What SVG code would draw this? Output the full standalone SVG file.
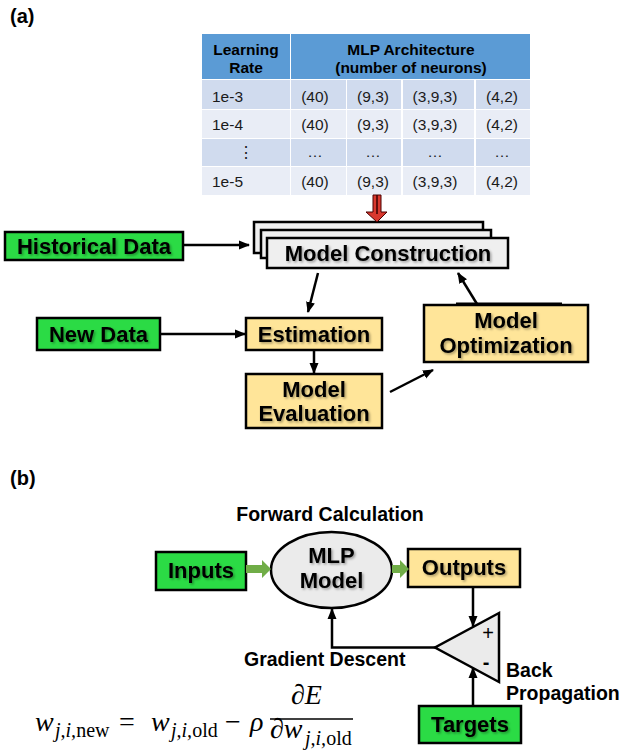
<svg xmlns="http://www.w3.org/2000/svg" width="636" height="751" viewBox="0 0 636 751">
<defs>
<style>
.lbl{font-family:"Liberation Sans",Arial,sans-serif;font-weight:bold;fill:#000}
.bt{font-size:22px;text-anchor:middle;filter:url(#sh)}
.cap{font-size:19.5px}
.box{stroke:#000;stroke-width:2.5}
.green{fill:#2BDB45}
.yellow{fill:#FFE599}
.gray{fill:#EFEFEF}
.hd{fill:#5B9BD5}
.r1{fill:#D0DBEE}
.r2{fill:#E9EDF6}
.th{font-family:"Liberation Sans",Arial,sans-serif;font-size:15.5px;font-weight:bold;text-anchor:middle;fill:#000}
.td{font-family:"Liberation Sans",Arial,sans-serif;font-size:15.5px;text-anchor:middle;fill:#1a1a1a}
.conn{stroke:#000;stroke-width:2.5;fill:none}
.garrow{fill:#70AD47}
.math{font-family:"Liberation Serif","Times New Roman",serif;font-style:italic;fill:#000}
.up{font-style:normal}
</style>
<filter id="sh" x="-10%" y="-30%" width="125%" height="170%">
<feDropShadow dx="1.5" dy="1.5" stdDeviation="1" flood-color="#000" flood-opacity="0.35"/>
</filter>
<marker id="ah" markerUnits="userSpaceOnUse" markerWidth="11" markerHeight="10" viewBox="0 0 11 10" refX="10" refY="5" orient="auto">
<path d="M0,0.5 L11,5 L0,9.5 z" fill="#000"/>
</marker>
</defs>

<text class="lbl" x="10" y="23" font-size="20">(a)</text>
<text class="lbl" x="10" y="485" font-size="20">(b)</text>

<g id="table">
<rect class="hd" x="202" y="34" width="88" height="45"/>
<rect class="hd" x="291" y="34" width="239" height="45"/>
<rect class="r1" x="202" y="80" width="88" height="29"/>
<rect class="r1" x="291" y="80" width="55" height="29"/>
<rect class="r1" x="347" y="80" width="54" height="29"/>
<rect class="r1" x="403" y="80" width="71" height="29"/>
<rect class="r1" x="476" y="80" width="54" height="29"/>
<rect class="r2" x="202" y="110" width="88" height="28"/>
<rect class="r2" x="291" y="110" width="55" height="28"/>
<rect class="r2" x="347" y="110" width="54" height="28"/>
<rect class="r2" x="403" y="110" width="71" height="28"/>
<rect class="r2" x="476" y="110" width="54" height="28"/>
<rect class="r1" x="202" y="139" width="88" height="27"/>
<rect class="r1" x="291" y="139" width="55" height="27"/>
<rect class="r1" x="347" y="139" width="54" height="27"/>
<rect class="r1" x="403" y="139" width="71" height="27"/>
<rect class="r1" x="476" y="139" width="54" height="27"/>
<rect class="r2" x="202" y="167" width="88" height="28"/>
<rect class="r2" x="291" y="167" width="55" height="28"/>
<rect class="r2" x="347" y="167" width="54" height="28"/>
<rect class="r2" x="403" y="167" width="71" height="28"/>
<rect class="r2" x="476" y="167" width="54" height="28"/>
<text class="th" x="246" y="55">Learning</text>
<text class="th" x="246" y="73">Rate</text>
<text class="th" x="411" y="55">MLP Architecture</text>
<text class="th" x="411" y="73">(number of neurons)</text>
<g class="td">
<text x="212" y="102" text-anchor="start">1e-3</text>
<text x="315" y="102">(40)</text><text x="373" y="102">(9,3)</text><text x="435" y="102">(3,9,3)</text><text x="502" y="102">(4,2)</text>
<text x="212" y="130" text-anchor="start">1e-4</text>
<text x="315" y="130">(40)</text><text x="373" y="130">(9,3)</text><text x="435" y="130">(3,9,3)</text><text x="502" y="130">(4,2)</text>
<text x="246" y="158">⋮</text>
<text x="315" y="157">…</text><text x="373" y="157">…</text><text x="435" y="157">…</text><text x="502" y="157">…</text>
<text x="212" y="187" text-anchor="start">1e-5</text>
<text x="315" y="187">(40)</text><text x="373" y="187">(9,3)</text><text x="435" y="187">(3,9,3)</text><text x="502" y="187">(4,2)</text>
</g>
</g>

<g id="historical-data">
<rect class="box green" x="5" y="232" width="178" height="28"/>
<text class="lbl bt" x="94" y="254">Historical Data</text>
</g>

<g id="model-construction">
<rect class="box gray" x="254" y="222" width="229" height="31"/>
<rect class="box gray" x="261" y="230" width="230" height="28"/>
<rect class="box gray" x="267" y="238" width="241" height="30"/>
<text class="lbl bt" x="388" y="261">Model Construction</text>
</g>

<g id="new-data">
<rect class="box green" x="37" y="318" width="123" height="32"/>
<text class="lbl bt" x="98.5" y="342">New Data</text>
</g>

<g id="estimation">
<rect class="box yellow" x="246" y="318" width="136" height="32"/>
<text class="lbl bt" x="314" y="342">Estimation</text>
</g>

<g id="model-evaluation">
<rect class="box yellow" x="246" y="374" width="136" height="54"/>
<text class="lbl bt" x="314" y="397">Model</text>
<text class="lbl bt" x="314" y="421">Evaluation</text>
</g>

<g id="model-optimization">
<rect class="box yellow" x="424" y="305" width="164" height="57"/>
<line x1="456" y1="304" x2="562" y2="304" stroke="#000" stroke-width="3"/>
<text class="lbl bt" x="506" y="328">Model</text>
<text class="lbl bt" x="506" y="353">Optimization</text>
</g>

<g id="inputs">
<rect class="box green" x="156" y="552" width="90" height="38"/>
<text class="lbl bt" x="201" y="578">Inputs</text>
</g>

<g id="mlp-model">
<ellipse cx="331.5" cy="570" rx="60.5" ry="38" fill="#EBEBEB" stroke="#000" stroke-width="2.5"/>
<text class="lbl bt" x="331.5" y="563">MLP</text>
<text class="lbl bt" x="331.5" y="588">Model</text>
</g>

<g id="outputs">
<rect class="box yellow" x="408" y="549" width="112" height="38"/>
<text class="lbl bt" x="464" y="575">Outputs</text>
</g>

<g id="comparator">
<polygon points="499,613 435,647.5 499,682" fill="#EBEBEB" stroke="#000" stroke-width="2.5" stroke-linejoin="miter"/>
<text x="488" y="640" font-family="Liberation Sans,Arial,sans-serif" font-size="20" text-anchor="middle">+</text>
<text x="486" y="669" font-family="Liberation Sans,Arial,sans-serif" font-size="20" font-weight="bold" text-anchor="middle">-</text>
</g>

<g id="targets">
<rect class="box green" x="419" y="706" width="102" height="37"/>
<text class="lbl bt" x="470" y="732">Targets</text>
</g>

<g id="connectors">
<path d="M373,195 L381,195 L381,212 L387,212 L377,222 L366,212 L373,212 Z" fill="#D9382E" stroke="#4a0000" stroke-width="1"/>
<line x1="377" y1="195" x2="377" y2="214" stroke="#3a0000" stroke-width="1.5"/>
<line class="conn" x1="183" y1="245" x2="249" y2="245" marker-end="url(#ah)"/>
<line class="conn" x1="160" y1="334" x2="245" y2="334" marker-end="url(#ah)"/>
<line class="conn" x1="318" y1="273" x2="308" y2="312" marker-end="url(#ah)"/>
<line class="conn" x1="314" y1="350" x2="314" y2="373" marker-end="url(#ah)"/>
<line class="conn" x1="390" y1="392" x2="433" y2="370" marker-end="url(#ah)"/>
<line class="conn" x1="477" y1="304" x2="458" y2="273" marker-end="url(#ah)"/>
<polygon class="garrow" points="246,565 262,565 262,560 271,569 262,578 262,573 246,573"/>
<polygon class="garrow" points="392,565 400,565 400,560 409,569 400,578 400,573 392,573"/>
<line class="conn" x1="473" y1="588" x2="473" y2="626" marker-end="url(#ah)"/>
<line class="conn" x1="473" y1="706" x2="473" y2="668" marker-end="url(#ah)"/>
<polyline class="conn" points="435,647.5 332,647.5 332,609" marker-end="url(#ah)"/>
</g>

<text class="lbl cap" x="330" y="521" text-anchor="middle">Forward Calculation</text>
<text class="lbl cap" x="244" y="666">Gradient Descent</text>
<text class="lbl cap" x="506" y="677">Back</text>
<text class="lbl cap" x="506" y="700">Propagation</text>

<g id="equation">
<text class="math" font-size="28" x="35" y="731">w</text>
<text class="math" font-size="20" x="55" y="737">j,i,<tspan class="up">new</tspan></text>
<text class="math up" font-size="28" x="119" y="731">=</text>
<text class="math" font-size="28" x="151" y="731">w</text>
<text class="math" font-size="20" x="171" y="737">j,i,<tspan class="up">old</tspan></text>
<text class="math up" font-size="28" x="225" y="731">−</text>
<text class="math" font-size="28" x="250" y="731">ρ</text>
<text class="math" font-size="28" x="291" y="704">∂E</text>
<line x1="270" y1="719" x2="353" y2="719" stroke="#000" stroke-width="1.5"/>
<text class="math" font-size="28" x="270" y="738">∂w</text>
<text class="math" font-size="20" x="305" y="745">j,i,<tspan class="up">old</tspan></text>
</g>
</svg>
